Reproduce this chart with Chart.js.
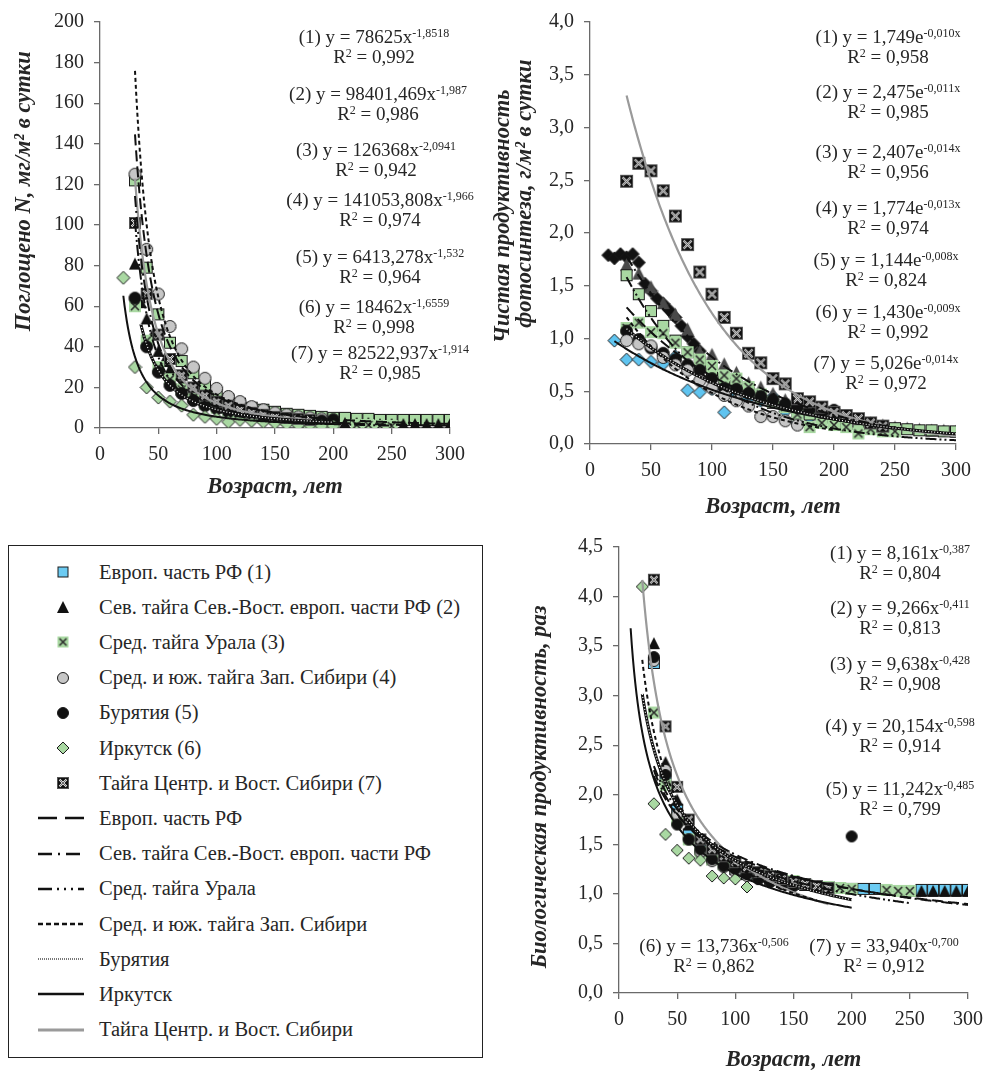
<!DOCTYPE html>
<html>
<head>
<meta charset="utf-8">
<script src="https://cdn.jsdelivr.net/npm/chart.js@4.4.0/dist/chart.umd.min.js"></script>
<style>
  body { margin: 0; background: #fff; width: 992px; height: 1071px; position: relative; overflow: hidden;
         font-family: "Liberation Serif", "Times New Roman", serif; color: #262626; }
  canvas.ch { position: absolute; }
  .eq { position: absolute; transform: translateX(-50%); white-space: nowrap; font-size: 19px; line-height: 20px; text-align: center; }
  .eq sup { font-size: 12px; vertical-align: 6px; line-height: 0; }
  #legend { position: absolute; left: 8px; top: 545px; width: 475px; height: 513px; border: 1.5px solid #222; box-sizing: border-box; }
  .lg { position: absolute; left: 0; height: 30px; display: flex; align-items: center; font-size: 20.5px; white-space: nowrap; }
  .lg canvas { position: absolute; left: 22px; }
  .lg span { position: absolute; left: 90px; }
</style>
</head>
<body>
<canvas id="cUptake" class="ch"></canvas>
<canvas id="cNpp" class="ch"></canvas>
<canvas id="cBio" class="ch"></canvas>
<div id="legend"></div>

<script>
// ---------- common
const ageTicks = [0, 50, 100, 150, 200, 250, 300];
const seriesNames = ['Европ. часть РФ (1)', 'Сев. тайга Сев.-Вост. европ. части РФ (2)', 'Сред. тайга Урала (3)',
  'Сред. и юж. тайга Зап. Сибири (4)', 'Бурятия (5)', 'Иркутск (6)', 'Тайга Центр. и Вост. Сибири (7)'];
const trendNames = ['Европ. часть РФ', 'Сев. тайга Сев.-Вост. европ. части РФ', 'Сред. тайга Урала',
  'Сред. и юж. тайга Зап. Сибири', 'Бурятия', 'Иркутск', 'Тайга Центр. и Вост. Сибири'];

// ---------- top-left: N uptake, mg/m2 per day
const uptakeTicks = [0, 20, 40, 60, 80, 100, 120, 140, 160, 180, 200];
const u1x = [30,40,50,60,70,80,90,100,110,120,130,140,150,160,170,180,190,200,210,220,230,240,250,260,270,280,290,300];
const u1y = [122,79,56,42,33,27,21,17,14,12,10,9,8,7,6.5,6,5.5,5,5,4.5,4.5,4,4,4,4,4,4,4];
const u2x = [30,35,40,45,50,55,60,70,80,90,100,110,120,130,140,150,160,170,180,190,200,210,220,230,240,250,260,270,280,290,300];
const u2y = [81,62,54,46,38,33,29,22,17,13.5,11,9,7.5,6.5,5.5,5,4.5,4,3.5,3,3,2.5,2.5,2.5,2,2,2,2,2,2,2];
const u3x = [30,40,50,60,70,80,90,100,110,120,130,140,150,160,170,180,190,200,220,230,240,250];
const u3y = [60,43,30,24,19,15,12,10,8,7,6,5,4.5,4,3.5,3,2.5,2,1.5,1.5,1,1];
const u4x = [30,40,50,60,70,80,90,100,110,120,130,140,150,160,170,180,190,200];
const u4y = [125,88,66,50,39,30,24.5,19.5,15.5,13,10.5,9,7.5,6.5,5.5,5,4.5,4];
const u5x = [30,40,50,60,70,80,90,100,110,120,130,140,150,160,170,180,190,200];
const u5y = [64,40,27.5,21,17,13.5,11,9.5,8,7,6,5.5,5,4.5,4,3.5,3.5,4];
const u6x = [20,30,40,50,60,70,80,90,100,110,120,130,140,150,160,170,180,190,200];
const u6y = [74,30,20,15,13,11,6.5,5.5,4.5,3,4,3.5,3,2.5,2,1.5,1.5,1,1];
const u7x = [30,40,50,60,70,80,90,100,110,120,130,140,150,160,170,180];
const u7y = [101,66,46,34,26,20,16,13,11,9,7.5,6.5,5.5,5,4.5,4];
// printed trend equations y = a*x^b
const uptakeA = [78625, 98401.469, 126368, 141053.808, 6413.278, 18462, 82522.937];
const uptakeB = [-1.8518, -1.987, -2.0941, -1.966, -1.532, -1.6559, -1.914];
const uptakeFrom = [30, 30, 30, 30, 20, 35, 30];
const uptakeTo = [300, 300, 250, 200, 200, 200, 180];
const uptakeEq = [['78625x', '-1,8518', '0,992'], ['98401,469x', '-1,987', '0,986'], ['126368x', '-2,0941', '0,942'],
  ['141053,808x', '-1,966', '0,974'], ['6413,278x', '-1,532', '0,964'], ['18462x', '-1,6559', '0,998'], ['82522,937x', '-1,914', '0,985']];

// ---------- top-right: net photosynthesis productivity, g/m2 per day
const nppTicks = [0, 0.5, 1, 1.5, 2, 2.5, 3, 3.5, 4];
const p1x = [20,30,40,50,60,70,80,90,100,110,120,130,140,150,160,170,180,200];
const p1y = [0.98,0.80,0.80,0.78,0.76,0.83,0.51,0.49,0.52,0.30,0.47,0.43,0.41,0.45,0.31,0.20,0.25,0.27];
const p2x = [15,20,25,30,35,40,45,50,55,60,65,70,75,80,85,90];
const p2y = [1.79,1.76,1.80,1.77,1.80,1.72,1.52,1.45,1.38,1.33,1.27,1.20,1.12,1.02,0.95,0.88];
const p3x = [30,40,50,60,70,80,90,100,110,120,130,140,150,160,170,180,190,200,210,220,230,240,250,260,270,280,290,300];
const p3y = [1.70,1.62,1.49,1.34,1.23,1.09,0.88,0.85,0.76,0.68,0.58,0.54,0.48,0.42,0.38,0.33,0.30,0.27,0.24,0.22,0.20,0.18,0.16,0.15,0.14,0.13,0.13,0.12];
const p4x = [30,40,50,60,70,80,90,100,110,120,130,140,150,160,170,180,190,200,210,220,230,240,250,260,270,280,290,300];
const p4y = [1.60,1.42,1.26,1.12,0.98,0.87,0.77,0.70,0.62,0.55,0.49,0.44,0.39,0.35,0.31,0.28,0.25,0.22,0.20,0.19,0.17,0.16,0.15,0.14,0.13,0.13,0.12,0.12];
const p5x = [30,40,50,60,70,80,90,100,110,120,130,140,150,160,170,180,190,200,210,220,230,240,250];
const p5y = [1.10,1.15,1.06,1.05,0.96,0.87,0.80,0.74,0.65,0.62,0.54,0.47,0.40,0.35,0.28,0.16,0.20,0.18,0.16,0.10,0.14,0.12,0.12];
const p6x = [30,40,50,60,70,80,90,100,110,120,130,140,150,160,170,180,190,200];
const p6y = [1.07,0.99,0.91,0.86,0.80,0.75,0.70,0.62,0.53,0.52,0.48,0.45,0.42,0.38,0.35,0.33,0.30,0.32];
const p7x = [30,40,50,60,70,80,90,100,110,120,130,140,150,160,170];
const p7y = [0.98,0.95,0.93,0.82,0.75,0.70,0.60,0.53,0.46,0.41,0.36,0.26,0.26,0.22,0.18];
const p8x = [30,40,50,60,70,80,90,100,110,120,130,140,150,160,170,180,190,200,210,220,230,240];
const p8y = [2.49,2.66,2.59,2.40,2.16,1.89,1.63,1.42,1.20,1.05,0.86,0.77,0.62,0.57,0.43,0.40,0.35,0.30,0.27,0.24,0.20,0.17];
// printed trend equations y = a*e^(k*x)
const nppA = [1.749, 2.475, 2.407, 1.774, 1.144, 1.430, 5.026];
const nppK = [-0.010, -0.011, -0.014, -0.013, -0.008, -0.009, -0.014];
const nppFrom = [30, 30, 30, 30, 20, 30, 30];
const nppTo = [250, 300, 300, 200, 250, 300, 300];
const nppEq = [['1,749e', '-0,010x', '0,958'], ['2,475e', '-0,011x', '0,985'], ['2,407e', '-0,014x', '0,956'],
  ['1,774e', '-0,013x', '0,974'], ['1,144e', '-0,008x', '0,824'], ['1,430e', '-0,009x', '0,992'], ['5,026e', '-0,014x', '0,972']];

// ---------- bottom-right: biological productivity, times
const bioTicks = [0, 0.5, 1, 1.5, 2, 2.5, 3, 3.5, 4, 4.5];
const b1x = [30,40,50,60,70,80,90,100,110,120,130,140,150,160,170,180,190,200,210,220,260,270,280,290,300];
const b1y = [3.33,2.2,1.85,1.6,1.45,1.35,1.3,1.25,1.2,1.18,1.15,1.12,1.1,1.09,1.08,1.07,1.06,1.05,1.05,1.05,1.04,1.04,1.04,1.04,1.04];
const b2x = [30,40,50,60,70,80,90,100,110,120,130,140,150,160,170,180,190,200,250,260,270,280,290,300];
const b2y = [3.53,2.33,1.95,1.7,1.55,1.45,1.37,1.3,1.26,1.22,1.18,1.15,1.12,1.1,1.08,1.07,1.06,1.05,1.03,1.03,1.03,1.03,1.03,1.03];
const b3x = [30,40,50,60,70,80,90,100,110,120,130,140,150,160,170,180,190,200,230,240,250];
const b3y = [2.83,2.1,1.75,1.55,1.42,1.35,1.3,1.27,1.24,1.2,1.18,1.15,1.13,1.1,1.08,1.07,1.06,1.05,1.04,1.03,1.03];
const b4x = [30,40,50,60,70,80,90,100,110,120,130,140,150];
const b4y = [3.35,2.25,1.8,1.55,1.42,1.33,1.27,1.22,1.18,1.15,1.12,1.1,1.08];
const b5x = [30,40,50,60,70,80,90,100,110,120,130,140,150,200];
const b5y = [3.39,2.2,1.7,1.55,1.45,1.35,1.28,1.25,1.2,1.15,1.12,1.1,1.08,1.58];
const b6x = [20,30,40,50,60,70,80,90,100,110];
const b6y = [4.10,1.91,1.60,1.44,1.36,1.34,1.18,1.16,1.15,1.07];
const b7x = [30,40,50,60,70,80,90,100,110,120,130,140,150,160,170,180];
const b7y = [4.17,2.69,2.08,1.75,1.55,1.45,1.38,1.32,1.27,1.22,1.18,1.15,1.12,1.1,1.08,1.06];
// printed trend equations y = a*x^b
const bioA = [8.161, 9.266, 9.638, 20.154, 11.242, 13.736, 33.940];
const bioB = [-0.387, -0.411, -0.428, -0.598, -0.485, -0.506, -0.700];
const bioFrom = [30, 30, 30, 20, 10, 20, 20];
const bioTo = [300, 300, 250, 170, 200, 200, 180];
const bioEq = [['8,161x', '-0,387', '0,804'], ['9,266x', '-0,411', '0,813'], ['9,638x', '-0,428', '0,908'],
  ['20,154x', '-0,598', '0,914'], ['11,242x', '-0,485', '0,799'], ['13,736x', '-0,506', '0,862'], ['33,940x', '-0,700', '0,912']];

// ---------- colours / styles
const GREEN = '#a9d8a2', BLUE = '#6ccbf2', GREY = '#c6c6c6', INK = '#262626';
const trendStyles = [
  { color: '#111', dash: [11, 5], width: 2 },
  { color: '#111', dash: [11, 4, 2, 4], width: 2 },
  { color: '#111', dash: [11, 3, 2, 3, 2, 3], width: 2 },
  { color: '#111', dash: [4, 3], width: 2 },
  { color: '#111', dash: [], width: 2 },
  { color: '#111', dash: [], width: 3, dots: true },
  { color: '#9a9a9a', dash: [], width: 2.2 }
];

Chart.defaults.font.family = '"Liberation Serif", "Times New Roman", serif';
Chart.defaults.color = INK;

function marker(kind, s, fill) {
  const c = document.createElement('canvas');
  c.width = c.height = s + 2;
  const g = c.getContext('2d');
  const m = (s + 2) / 2;
  g.lineWidth = 1; g.strokeStyle = '#1a1a1a'; g.fillStyle = fill;
  const cross = (w, col, inset) => {
    g.strokeStyle = col; g.lineWidth = w; g.beginPath();
    g.moveTo(1 + inset, 1 + inset); g.lineTo(s + 1 - inset, s + 1 - inset);
    g.moveTo(s + 1 - inset, 1 + inset); g.lineTo(1 + inset, s + 1 - inset); g.stroke();
  };
  if (kind === 'square') { g.fillRect(1, 1, s, s); g.strokeRect(1.5, 1.5, s - 1, s - 1); }
  else if (kind === 'triangle') { g.beginPath(); g.moveTo(m, 1); g.lineTo(s + 1, s + 1); g.lineTo(1, s + 1); g.closePath(); g.fill(); }
  else if (kind === 'circle') { g.beginPath(); g.arc(m, m, s / 2 - 0.5, 0, Math.PI * 2); g.fill(); g.stroke(); }
  else if (kind === 'diamond') { g.beginPath(); g.moveTo(m, 1); g.lineTo(s + 1, m); g.lineTo(m, s + 1); g.lineTo(1, m); g.closePath(); g.fill(); g.stroke(); }
  else if (kind === 'cross') { g.fillRect(1, 1, s, s); cross(1.6, '#2a2a2a', 2); }
  else if (kind === 'xbox') {
    g.fillStyle = '#111'; g.fillRect(1, 1, s, s);
    cross(2, '#f4f4f4', 2.5); cross(0.6, '#111', 2.5);
    g.strokeStyle = '#555'; g.lineWidth = 1; g.strokeRect(1.5, 1.5, s - 1, s - 1);
  }
  return c;
}

const pts = (xs, ys) => xs.map((x, i) => ({ x, y: ys[i] }));

function pointSets(list) {
  return list.map((s, i) => ({ data: pts(s[0], s[1]), pointStyle: s[2], pointRadius: 6, showLine: false, order: 20 - i }));
}

function trendSets(kind, A, B, from, to) {
  const out = [];
  A.forEach((a, i) => {
    const line = [];
    for (let x = from[i]; x <= to[i]; x += 1) {
      line.push({ x, y: kind === 'pow' ? a * Math.pow(x, B[i]) : a * Math.exp(B[i] * x) });
    }
    const st = trendStyles[i];
    out.push({ data: line, showLine: true, pointRadius: 0, borderColor: st.color, borderWidth: st.width,
      borderDash: st.dash, fill: false, order: 1 });
    if (st.dots) {
      out.push({ data: line, showLine: true, pointRadius: 0, borderColor: '#fff', borderWidth: 1.2,
        borderDash: [1, 2], fill: false, order: 0 });
    }
  });
  return out;
}

const tickFont = { size: 20 };
const titleFont = { size: 22.5, weight: 'bold', style: 'italic', lineHeight: 1.0 };
const comma = v => v.toFixed(1).replace('.', ',');

function makeChart(id, box, pad, yWidth, xHeight, yMax, yTicks, yFmt, yTitle, yTitlePad, datasets) {
  const cv = document.getElementById(id);
  cv.width = box.w; cv.height = box.h;
  cv.style.left = box.l + 'px'; cv.style.top = box.t + 'px';
  const axisGrid = { drawOnChartArea: false, tickLength: 6, color: '#6a6a6a', lineWidth: 1.3 };
  const axisBorder = { color: '#6a6a6a', width: 1.3 };
  return new Chart(cv, {
    type: 'scatter',
    data: { datasets },
    options: {
      responsive: false, animation: false, devicePixelRatio: 1,
      layout: { padding: pad },
      plugins: { legend: { display: false }, tooltip: { enabled: false } },
      scales: {
        x: {
          type: 'linear', min: 0, max: 300,
          afterBuildTicks: s => { s.ticks = ageTicks.map(v => ({ value: v })); },
          ticks: { font: tickFont, padding: 9, maxRotation: 0 },
          grid: axisGrid, border: axisBorder,
          title: { display: true, text: 'Возраст, лет', font: titleFont, padding: 0 },
          afterFit: s => { s.height = xHeight; }
        },
        y: {
          type: 'linear', min: 0, max: yMax,
          afterBuildTicks: s => { s.ticks = yTicks.map(v => ({ value: v })); },
          ticks: { font: tickFont, padding: 10, callback: yFmt },
          grid: axisGrid, border: axisBorder,
          title: { display: true, text: yTitle, font: titleFont, padding: { top: yTitlePad, bottom: 0 } },
          afterFit: s => { s.width = yWidth; }
        }
      }
    }
  });
}

// ---------- charts
// leading / trailing em-spaces nudge the rotated titles along the axis as in the original
makeChart('cUptake', { l: 0, t: 0, w: 490, h: 498 }, { top: 20, right: 40, left: 0, bottom: 0 }, 100, 70,
  200, uptakeTicks, v => v, '\u2003\u2003\u2003Поглощено N, мг/м² в сутки', 13,
  trendSets('pow', uptakeA, uptakeB, uptakeFrom, uptakeTo).concat(pointSets([
    [u1x, u1y, marker('square', 12, GREEN)],
    [u2x, u2y, marker('triangle', 12, '#111')],
    [u3x, u3y, marker('cross', 12, GREEN)],
    [u4x, u4y, marker('circle', 13, GREY)],
    [u5x, u5y, marker('circle', 13, '#111')],
    [u6x, u6y, marker('diamond', 13, GREEN)],
    [u7x, u7y, marker('xbox', 12)]
  ])));

makeChart('cNpp', { l: 490, t: 0, w: 502, h: 518 }, { top: 18, right: 36, left: 0, bottom: 0 }, 100, 74,
  4, nppTicks, comma, ['\u2003\u2002Чистая продуктивность', '\u2003\u2003\u2003\u2002фотосинтеза, г/м² в сутки'], 1.75,
  trendSets('exp', nppA, nppK, nppFrom, nppTo).concat(pointSets([
    [p1x, p1y, marker('diamond', 13, '#5fc4f0')],
    [p2x, p2y, marker('diamond', 13, '#111')],
    [p3x, p3y, marker('triangle', 13, '#4a4a4a')],
    [p4x, p4y, marker('square', 12, GREEN)],
    [p5x, p5y, marker('cross', 12, GREEN)],
    [p6x, p6y, marker('circle', 13, '#111')],
    [p7x, p7y, marker('circle', 13, GREY)],
    [p8x, p8y, marker('xbox', 13)]
  ])));

makeChart('cBio', { l: 490, t: 520, w: 502, h: 551 }, { top: 27, right: 22, left: 0, bottom: 0 }, 129, 78,
  4.5, bioTicks, comma, 'Биологическая продуктивность, раз\u2003\u2002', 38.75,
  trendSets('pow', bioA, bioB, bioFrom, bioTo).concat(pointSets([
    [b1x, b1y, marker('square', 12, BLUE)],
    [b2x, b2y, marker('triangle', 12, '#111')],
    [b3x, b3y, marker('cross', 12, GREEN)],
    [b4x, b4y, marker('circle', 12, GREY)],
    [b5x, b5y, marker('circle', 12, '#111')],
    [b6x, b6y, marker('diamond', 12, GREEN)],
    [b7x, b7y, marker('xbox', 12)]
  ])));

// ---------- equation labels
function equations(list, pos) {
  list.forEach((e, i) => {
    const p = pos[i];
    const a = document.createElement('div');
    a.className = 'eq';
    a.style.left = p[0] + 'px'; a.style.top = (p[1] - 10) + 'px';
    a.innerHTML = '(' + (i + 1) + ') y = ' + e[0] + '<sup>' + e[1] + '</sup>';
    const b = document.createElement('div');
    b.className = 'eq';
    b.style.left = p[0] + 'px'; b.style.top = (p[1] + 10) + 'px';
    b.innerHTML = 'R<sup>2</sup> = ' + e[2];
    document.body.append(a, b);
  });
}
equations(uptakeEq, [[374, 37], [378, 94], [376, 150], [380, 200], [380, 257], [374, 307], [380, 353]]);
equations(nppEq, [[888, 37], [888, 92], [888, 152], [888, 208], [886, 260], [888, 312], [886, 363]]);
equations(bioEq, [[900, 553], [900, 608], [900, 664], [900, 726], [900, 789], [714, 946], [884, 946]]);

// ---------- legend
const legendMarkers = [marker('square', 11, BLUE), marker('triangle', 12, '#111'), marker('cross', 11, GREEN),
  marker('circle', 12, GREY), marker('circle', 12, '#111'), marker('diamond', 12, GREEN), marker('xbox', 12)];
const legendDash = [[19, 8], [14, 6, 2, 6], [14, 5, 2, 5, 2, 5, 2, 5], [5, 3], [1, 1], [], []];
const lg = document.getElementById('legend');
const rowY0 = 26, rowStep = 35.2;
for (let r = 0; r < 14; r++) {
  const row = document.createElement('div');
  row.className = 'lg';
  row.style.top = (rowY0 + r * rowStep - 15) + 'px';
  const cv = document.createElement('canvas');
  cv.width = 56; cv.height = 24; cv.style.top = '3px';
  const g = cv.getContext('2d');
  if (r < 7) {
    const m = legendMarkers[r];
    g.drawImage(m, 32 - m.width / 2, 12 - m.height / 2);
  } else {
    const k = r - 7;
    g.setLineDash(legendDash[k]);
    g.lineWidth = k === 4 ? 2 : (k === 6 ? 3 : 2.4);
    g.strokeStyle = k === 6 ? '#9a9a9a' : (k === 4 ? '#777' : '#111');
    g.beginPath(); g.moveTo(7, 12); g.lineTo(53, 12); g.stroke();
  }
  const t = document.createElement('span');
  t.textContent = r < 7 ? seriesNames[r] : trendNames[r - 7];
  row.append(cv, t);
  lg.append(row);
}
</script>
</body>
</html>
